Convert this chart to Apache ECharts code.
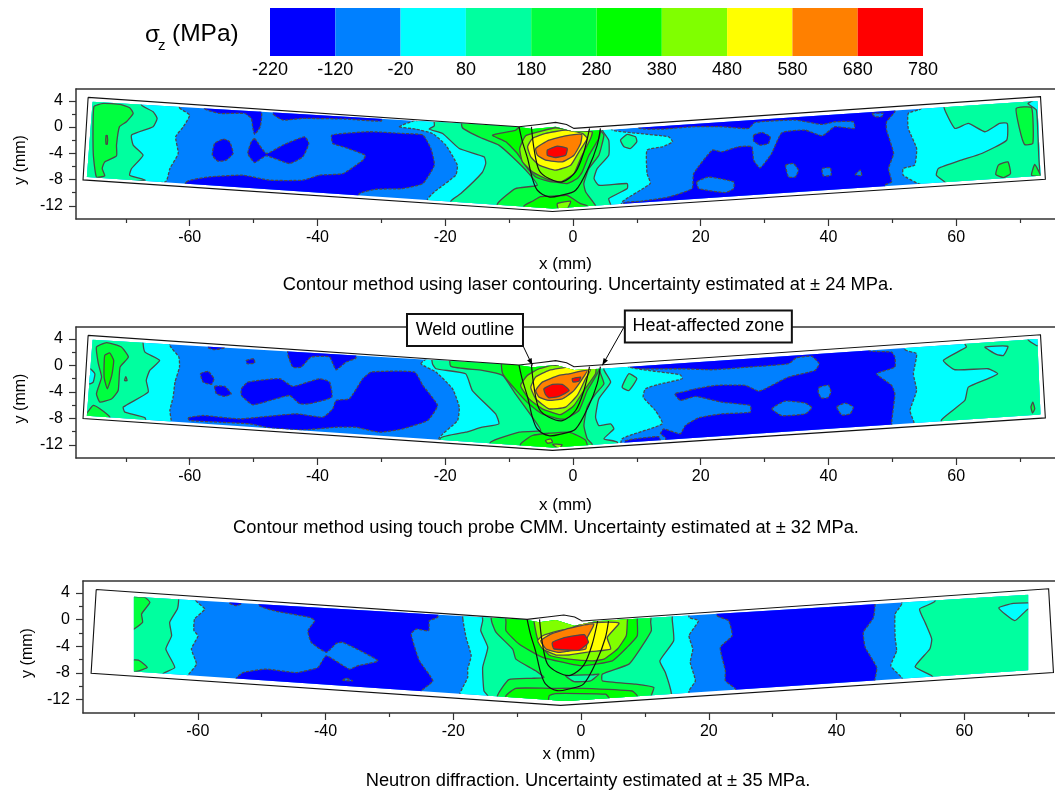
<!DOCTYPE html>
<html><head><meta charset="utf-8">
<style>html,body{margin:0;padding:0;background:#fff}#c{width:1055px;height:791px}</style>
<script src="https://cdn.jsdelivr.net/npm/echarts@6/dist/echarts.min.js"></script>
</head><body><div id="c"></div>
<script>
// stress levels and colours
const colorbarLevels = ['-220','-120','-20','80','180','280','380','480','580','680','780'];
const bandColors = ['#0000ff','#0080ff','#00ffff','#00ff9f','#00ff40','#00ff00','#80ff00','#ffff00','#ff8000','#ff0000'];
const xMajor = [-60,-40,-20,0,20,40,60];
const xMinor = [-70,-50,-30,-10,10,30,50,70];
const yMajor = [-12,-8,-4,0,4];
const yMinor = [-10,-6,-2,2];
const captions = ['Contour method using laser contouring. Uncertainty estimated at ± 24 MPa.',
 'Contour method using touch probe CMM. Uncertainty estimated at ± 32 MPa.',
 'Neutron diffraction. Uncertainty estimated at ± 35 MPa.'];

// specimen geometry (mm)
const specimenOutline = [[-75.9,4.53],[-8.44,.05],[-5.3,.4],[-2.7,.71],[-1,.4],[.16,-.2],[73.2,4.63],[73.96,-7.94],[-3.2,-12.85],[-76.7,-8.04],[-75.9,4.53]];
const hazOutline = [[-8.44,.05],[-7.9,-2.24],[-7.1,-4.78],[-6.35,-7.84],[-5.57,-9.62],[-3.75,-10.64],[-1.92,-10.4],[.42,-9.62],[2.5,-6.06],[3.8,-2.75],[4.3,-.2]];
const weldOutline = [[-6.5,.05],[-6.1,-3.26],[-5.3,-6.57],[-3.75,-7.84],[-1.66,-8.35],[.42,-6.82],[1.72,-3.77],[2.6,-.2]];
const domainContour = [[-75.2,3.87],[-8.44,0],[-6.3,-.3],[-2.7,.05],[.16,-.7],[4.3,-.5],[72.7,3.97],[73.2,-7.43],[-3.2,-12.4],[-76.1,-7.6]];
const domainNeutron = [[-70,3.45],[-8.4,-.05],[-6.55,-.4],[-3.95,-.05],[-1.08,-.9],[2.3,-.25],[70,3.75],[70,-7.57],[-2.4,-12.2],[-70,-7.77]];

// contour regions: [band index, points in mm, optional solid flag]
const laserBands = [
 [0,[[-57.66,2.75],[-55.3,2.08],[-51.4,2.08],[-50.36,1.32],[-50.1,-.21],[-49.84,-1.12],[-48.96,.05],[-48.8,2.34],[-52.7,3.36],[-57.66,3.36]]],
 [0,[[-46.9,1.93],[-45.4,1.07],[-42.3,1.32],[-35.5,1.22],[-30,.91],[-30,1.83],[-46.9,2.85]]],
 [0,[[-54.7,-1.83],[-53.75,-2.24],[-53.2,-4.02],[-54.3,-5.04],[-55.6,-5.19],[-56.46,-4.28],[-56.1,-2.5]]],
 [0,[[-49.84,-1.73],[-48,-4.02],[-45.4,-2.75],[-42,-1.48],[-41.35,-2.5],[-42.3,-4.53],[-44.4,-5.55],[-48,-4.38],[-49.84,-5.4],[-50.9,-4.02],[-50.36,-2.24]]],
 [0,[[-60.5,-8.35],[-56.9,-7.59],[-51.7,-7.33],[-47.5,-8.09],[-42.3,-8.09],[-39.7,-7.33],[-36,-7.08],[-32.9,-5.04],[-32.5,-4.28],[-36,-3],[-37.6,-2.5],[-37.76,-1.22],[-31.9,-.71],[-26.7,-.97],[-23.5,-1.22],[-22.24,-3.26],[-21.7,-5.8],[-23.5,-8.6],[-26.7,-9.37],[-30.8,-9.47],[-33.4,-10.13],[-35,-13],[-62,-13]]],
 [0,[[10.3,-.1],[14,-.31],[18.65,.05],[23.3,.05],[27.5,-.21],[28.5,.71],[34.8,1.07],[39,.4],[41,.81],[43.9,.81],[44.1,-.21],[41,.05],[39,-1.33],[36.35,-.46],[32.7,-.87],[31.1,-4.02],[29.3,-6.21],[28.3,-5.04],[28,-3],[25.9,-3],[23.3,-3.77],[21.8,-3.51],[18.9,-7.08],[18.65,-9.37],[15,-10.64],[10.57,-11.3],[8,-11.5],[8,-12.4],[48.85,-12.4],[48.85,-8.86],[49.9,-8.35],[49.4,-6.31],[50.2,-4.02],[49.1,-.46],[49.1,.81],[50.4,2.34],[50.4,3.87],[10.3,3.87]]],
 [0,[[28.3,-1.22],[29.6,-.82],[30.9,-1.48],[30.6,-2.5],[29.3,-2.75],[28.3,-2.14]]],
 [1,[[33.3,-5.8],[34.5,-5.55],[35.3,-6.57],[34.8,-7.6],[33.75,-7.6]]],
 [1,[[39,-6.31],[40.3,-6.21],[40.4,-7.33],[39.2,-7.43]]],
 [1,[[44.2,-7.23],[45,-6.57],[45.2,-7.43]]],
 [1,[[19.4,-8.35],[21.25,-7.6],[25.16,-8.35],[25.16,-9.37],[23.85,-9.98],[19.7,-9.37]]],
 [1,[[46.8,2.08],[48.6,2.08],[48.3,1.58],[47.3,1.58]]],
 [2,[[-61.6,2.95],[-60,1.83],[-61,.05],[-62.2,-1.48],[-61.8,-4.02],[-63.1,-6.31],[-63.8,-8.35],[-80,-9],[-80,6],[-61.6,6]]],
 [2,[[-27.2,.05],[-24.6,1],[6,1],[6.15,-.46],[10.3,-.97],[15,-1.48],[15.6,-2.24],[14,-3],[11.6,-3.51],[11.6,-7.08],[12.1,-8.6],[7.7,-11.4],[7,-14],[-22.76,-14],[-22.76,-11],[-21.7,-9.88],[-18.35,-7.33],[-18.1,-5.8],[-19.9,-2.75],[-22,-.97],[-24.6,-.31]]],
 [2,[[54.6,2.85],[52.5,2.08],[52.5,-.21],[53.8,-3.26],[53.5,-5.8],[51.7,-6.31],[51.7,-7.33],[54.06,-8.6],[60,-10],[80,-10],[80,7],[54.6,7]]],
 [3,[[-67.55,3.36],[-65.73,2.34],[-65.1,1.32],[-65.73,.05],[-69.1,-1.22],[-68.85,-2.75],[-67.3,-4.28],[-69.1,-6.31],[-69.4,-7.33],[-67,-8.09],[-80,-9],[-80,6],[-67.55,6]]],
 [3,[[-21.7,.2],[-22.5,-.31],[-20.4,-.97],[-17.8,-3.26],[-13.9,-4.53],[-13.65,-5.55],[-14.2,-6.92],[-17.55,-10.13],[-19.1,-11.25],[-19.5,-14],[6,-14],[5.9,-11.8],[5.6,-10.9],[8.5,-9.37],[8.5,-8.6],[4.06,-8.86],[3.3,-7.84],[3.8,-6.31],[5.6,-4.28],[5.6,-2],[4.6,-.46],[4.6,2],[-21.7,2]]],
 [3,[[8.5,-1.12],[9.8,-1.48],[10,-2.24],[9,-3.26],[8,-3],[7.45,-2]]],
 [3,[[58.1,2.95],[59.8,-.21],[61.9,.56],[64.5,-.71],[66.8,.56],[68,.56],[67.9,-2],[64,-4.02],[60.8,-5.04],[57.2,-6.31],[56.9,-7.33],[58.2,-8.35],[60,-10],[80,-10],[80,7],[58.1,7]]],
 [2,[[71.25,3.6],[72.55,2.6],[72.8,-1.2],[73.2,-7.2],[75,-7],[75,5]],1],
 [4,[[-75,3.1],[-73.5,3.61],[-70.9,3.46],[-69.4,2.95],[-68.85,2.08],[-69.9,.81],[-71,.05],[-71.46,-2.75],[-71.46,-4.38],[-73.3,-5.3],[-73.7,-6.31],[-73.3,-7.43],[-74.6,-7.6],[-75.1,-4]]],
 [5,[[-73.1,-1.3],[-72.9,-1.3],[-72.9,-2.6],[-73.1,-2.6]]],
 [4,[[-17.3,-.1],[-14.2,-1.73],[-11.6,-2.75],[-9.5,-4.53],[-6.9,-7.08],[-5.6,-8.86],[-9,-9.37],[-11.8,-11.66],[-12,-14],[4,-14],[3.5,-11.9],[2,-9.88],[1.7,-8.6],[2.5,-6.31],[4.06,-4.28],[4.85,-1.22],[4.3,-.46],[4.3,2],[-17.3,2]]],
 [4,[[69.4,2.85],[71.8,2.95],[72,-2.5],[70.7,-2.65],[69.9,-.21]]],
 [4,[[66.6,-5.8],[68.1,-5.3],[68.5,-7.08],[67.4,-7.7],[66.2,-7.23]]],
 [4,[[71.8,-7.33],[72.3,-5.7],[73.2,-7.43]]],
 [5,[[-7.65,-12],[-6.35,-11.3],[-5.05,-10.6],[-2.7,-10.5],[-.9,-10.4],[1.2,-11.66],[2.24,-12],[2.5,-15],[-8,-15]]],
 [6,[[-2.45,-11.66],[-.36,-11.3],[-.88,-12.4],[-2.3,-12.4]]],
 [5,[[-12.6,-1.22],[-9,-.5],[-8,.3],[4.3,.3],[4.3,-.7],[4.06,-1.73],[2.5,-4.3],[1.46,-6.82],[.68,-7.84],[-.9,-8.6],[-2.2,-8.45],[-3.75,-8.25],[-5.8,-7.6],[-7.1,-6.31],[-8.7,-4.02],[-10.5,-2.24]]],
 [6,[[-8.33,-3.26],[-7.4,-1.33],[-5.3,-.71],[-2.7,-.1],[.2,-.6],[3.02,-.71],[2.76,-1.73],[1.2,-4.78],[.16,-7.08],[-1.92,-8.35],[-4.27,-7.84],[-6.35,-6.82],[-7.9,-5.3]]],
 [7,[[-7.1,-3],[-6.35,-1.73],[-4.27,-.97],[-1.15,-.46],[1.46,-.97],[2.24,-1.73],[.94,-3.77],[-.36,-5.8],[-2.7,-6.57],[-5.3,-5.8],[-6.6,-4.53]]],
 [8,[[-5.83,-3.26],[-3.75,-1.99],[-1.15,-1.33],[1.36,-1.12],[1.2,-2.5],[.16,-4.28],[-1.66,-5.3],[-4.27,-5.04],[-5.57,-4.28]]],
 [9,[[-4,-3.5],[-2.45,-2.9],[-.9,-3.26],[-1.15,-4.28],[-2.7,-4.63],[-4,-4.28]]]
];
const probeBands = [
 [0,[[-57.1,2.67],[-56.1,2.37],[-54.5,2.67],[-54.5,3.5],[-57.1,3.5]]],
 [0,[[-51.15,.75],[-49.95,1],[-49.84,.35],[-51,.25]]],
 [0,[[-44.6,1.51],[-43.85,-.26],[-42.55,-.26],[-41,1.26],[-38.1,1.26],[-37.1,-.66],[-35.5,.5],[-34,1.1],[-34,3],[-44.6,3.5]]],
 [0,[[-58.3,-1.27],[-57.1,-.91],[-56.2,-2.02],[-56.6,-2.88],[-57.9,-2.53]]],
 [0,[[-56.1,-3.18],[-54.5,-3.18],[-53.5,-4.3],[-54.5,-4.7],[-55.8,-4.3]]],
 [0,[[-51.9,-3.54],[-50.9,-2.53],[-45.9,-2.02],[-43.85,-3.18],[-39.7,-2.02],[-38.1,-2.53],[-37.76,-4.8],[-41.25,-5.8],[-42.8,-5.8],[-44.4,-4.55],[-50.1,-5.96],[-51.9,-4.55]]],
 [0,[[-60.26,-7.93],[-57.9,-7.58],[-52.2,-8.08],[-43.3,-7.33],[-39.15,-7.83],[-37.6,-6.57],[-37.1,-5.3],[-35,-5.05],[-32.9,-2.02],[-31.6,-1.01],[-24.8,-1.01],[-23.5,-3.03],[-21.2,-6.06],[-22.76,-8.34],[-26.7,-9.6],[-30.3,-10.1],[-34,-9.35],[-37.1,-9.35],[-42.3,-9.75],[-47.5,-9.45],[-50.6,-8.84],[-55.3,-8.59],[-60,-8.34]]],
 [0,[[8.75,-.26],[9.8,-.51],[17.1,-.51],[21.77,-.66],[27.5,-.26],[33.75,.25],[35,1.16],[37.4,1.36],[38.55,.25],[37.9,-.76],[33.75,-1.77],[30.1,-3.54],[29.06,-3.9],[27,-3.03],[22.3,-3.03],[19.2,-3.54],[17.1,-4.04],[15.94,-4.3],[16.8,-5.3],[19.2,-4.7],[23.3,-5.56],[27.76,-6.06],[27.76,-7.07],[23.3,-7.33],[19.7,-7.93],[17.6,-9.1],[16.8,-10.35],[14.2,-9.6],[13.7,-10.35],[14.5,-10.96],[14.5,-13],[49.9,-13],[49.9,-8.6],[50.4,-4.3],[49.9,-3.03],[47.55,-1.27],[50.4,-.26],[50.4,1.26],[49.9,2],[46.25,2.27],[46.25,5],[8.75,3]]],
 [0,[[8.2,-11.4],[13.4,-10.76],[13.7,-11.4],[13.7,-13],[8.2,-13]]],
 [1,[[38.55,-3.3],[40,-3],[40.4,-4.04],[39.9,-4.9],[38.85,-4.9],[38.4,-4.04]]],
 [1,[[41.3,-6.3],[42.6,-5.7],[43.9,-6.3],[43.4,-7.33],[42.1,-7.5]]],
 [1,[[31.15,-6.57],[33.2,-5.4],[36.35,-5.7],[37.4,-6.4],[36.35,-7.33],[32.7,-7.6]]],
 [2,[[-63.1,3],[-61.7,1.26],[-61.6,-.26],[-62.3,-2.53],[-62.6,-4.8],[-63.1,-6.82],[-62.9,-8.34],[-63,-10],[-80,-10],[-80,6],[-63.1,6]]],
 [2,[[-23.8,.25],[-22,1.5],[8,1.5],[8.75,-.26],[16.8,-1.42],[17.1,-2.02],[13.4,-2.88],[11.35,-3.54],[11,-4.8],[12.9,-6.82],[14,-8.84],[7.7,-11.1],[7,-14],[-21,-14],[-20.94,-10.96],[-18.07,-8.34],[-17.8,-6.3],[-18.85,-3.54],[-21.45,-1]]],
 [2,[[52,2.37],[53.8,1.76],[53.3,-1.27],[53.8,-3.8],[52.76,-6.82],[53.3,-8.34],[54,-10],[80,-10],[80,7],[52,7]]],
 [3,[[-67.3,3.38],[-67,2],[-64.7,.75],[-66.25,-.76],[-66.8,-2.27],[-66.5,-4.04],[-70.4,-6.3],[-70.15,-7.07],[-67,-7.93],[-67,-10],[-80,-10],[-80,6],[-67.3,6]]],
 [2,[[-75.6,-.51],[-74.85,-1.27],[-75.1,-2.53],[-75.6,-2.78],[-78,-2.78],[-78,-.51]],1],
 [3,[[-22,.25],[-21.45,-.51],[-16.8,-1.27],[-15.75,-3.8],[-12.1,-7.33],[-11.6,-8.84],[-14.2,-9.35],[-16.8,-10.1],[-20.7,-10.96],[-21,-14],[7,-14],[6.93,-11.6],[4.85,-11.1],[6.4,-9.6],[5.9,-8.84],[4.06,-9.1],[3.54,-7.83],[4.06,-5.05],[5.9,-2.53],[4.85,-.66],[4.85,2],[-22,2]]],
 [3,[[8.75,-1.27],[10,-2],[8.75,-3.8],[7.7,-3.3]]],
 [3,[[61.35,3.28],[61.6,2.77],[58,.75],[59.8,-.66],[65,-.51],[66.5,-1.27],[65,-2],[61.9,-3.29],[61.35,-5.3],[57.7,-8.23],[58,-10],[80,-10],[80,7],[61.35,7]]],
 [2,[[64.5,2.77],[68.1,2.88],[67.4,1.51],[66.3,1.66]],1],
 [2,[[71.25,3.9],[72.55,3],[72.8,3],[75,4.5],[71.25,5]],1],
 [4,[[-74.6,2.77],[-73,3.43],[-70.7,2.77],[-69.6,1.26],[-70.9,-.26],[-71.2,-3.8],[-72.2,-5.05],[-74.06,-5.56],[-74.6,-4.3],[-73.8,-1.77],[-74.3,.25]]],
 [5,[[-73.3,1.51],[-72.5,1.87],[-71.9,.75],[-72.2,-1.52],[-72.9,-3.54],[-73.4,-1.77]]],
 [4,[[-76.15,-7.33],[-75.1,-6.06],[-74.06,-6.57],[-72.5,-7.83],[-72.5,-9],[-76.15,-9]]],
 [4,[[-70,-1.7],[-69.8,-2.3],[-70.2,-2.3]]],
 [4,[[72,-5.56],[72.3,-6.57],[71.95,-7.2],[71.7,-6.3]]],
 [4,[[-19.1,-.15],[-14.2,-.76],[-11,-1.52],[-9,-4.3],[-6.36,-7.83],[-5.05,-9.85],[-8.4,-10.1],[-12.9,-11.6],[-13,-14],[3,-14],[3,-11.9],[2.24,-11.1],[1.72,-9.1],[2.24,-6.3],[3.54,-4.3],[4.85,-2.78],[4.06,-.5],[4.06,2],[-19.1,2]]],
 [5,[[-8.2,-11.9],[-6.36,-10.6],[-3.75,-10.26],[-.6,-10.1],[2,-11.35],[2.5,-15],[-8.2,-15]]],
 [6,[[-4.3,-11.37],[-3.5,-11.1],[-3.2,-11.6],[-4,-11.77]]],
 [6,[[-3.2,-11.9],[-1.7,-12],[-2.2,-12.6]]],
 [5,[[-11,-1.27],[-8.4,-4.3],[-6.9,-5.8],[-4.8,-7.33],[-2.2,-8.08],[-1.15,-8.08],[.94,-6.82],[2.24,-3.8],[4.06,-.76],[4.06,2],[-11,2]]],
 [6,[[-8.2,-3.03],[-7.14,-1.52],[-5.3,-.51],[-3.2,0],[3.54,-.3],[3.54,-1.27],[1.72,-3.8],[.16,-6.06],[-1.67,-7.33],[-2.2,-7.43],[-4.8,-6.57],[-6.9,-5.05]]],
 [7,[[-6.6,-3.3],[-5.83,-1.77],[-3.75,-.76],[-.6,-.26],[2.76,-.6],[1.98,-2],[.68,-4.55],[-1.15,-6.3],[-3.75,-6.57],[-5.83,-5.05]]],
 [8,[[-5.83,-3.8],[-4.8,-2.53],[-2.2,-1.52],[-.6,-1.27],[2.24,-.76],[.94,-2.78],[-.1,-4.04],[-1.67,-5.05],[-3.75,-5.3],[-5.3,-4.8]]],
 [9,[[-4.55,-3.54],[-3.2,-2.88],[-1.67,-2.88],[-.6,-3.8],[-2.2,-4.7],[-3.75,-4.9],[-4.3,-4.4]]],
 [9,[[-.1,-2],[1.2,-1.77],[.94,-2.4],[0,-2.5]]]
];
const neutronBands = [
 [0,[[-55,2.45],[-54,2.1],[-53.2,2.35],[-53.2,3.35],[-55,3.35]]],
 [0,[[-50.4,2.1],[-47.7,1.25],[-42.5,.35],[-41.7,-.15],[-42.76,-1.66],[-42.25,-3.4],[-39.9,-4.9],[-38.3,-3.56],[-37.3,-3.4],[-31.8,-6.17],[-35,-6.92],[-36.25,-7.42],[-39.9,-5.42],[-41.2,-7.17],[-44.6,-7.93],[-49.3,-7.42],[-52.9,-7.93],[-54,-8.83],[-54,-11],[-25,-12.5],[-25,-10.68],[-23.2,-9.18],[-25.3,-6.17],[-26.6,-2.16],[-25.8,-1.41],[-23.85,-1.66],[-23.75,-.15],[-22.45,.35],[-22.45,3],[-50.4,4]]],
 [1,[[-37.3,-9.08],[-36.75,-8.78],[-35.8,-9.18]]],
 [0,[[21.3,.6],[23.1,-.15],[23.65,-2.41],[21.8,-4.16],[22.6,-7.67],[22.6,-9.18],[24.2,-10.43],[24.2,-13],[46,-13],[46,-9.08],[46.3,-7.17],[44.5,-4.16],[44.2,-1.91],[45.8,.35],[45.8,4],[21.3,4]]],
 [2,[[-60.3,2.85],[-58.9,1.6],[-60.5,.1],[-60.6,-1.66],[-59.95,-2.41],[-61,-4.4],[-60.2,-6.67],[-61.5,-8.3],[-62,-10],[-80,-10],[-80,6],[-60.3,6]]],
 [2,[[-18.5,.1],[-18,-2.66],[-17.2,-5.42],[-17.75,-7.42],[-17.75,-8.68],[-19,-11.18],[-19,-14],[16.9,-14],[16.9,-10.68],[17.9,-9.18],[17.1,-6.42],[17.5,-4.4],[16.9,-2.41],[18.4,-.15],[16.9,.35],[16.9,3],[-18.5,3]]],
 [2,[[50.2,2.35],[49.17,.85],[49.17,-2.66],[49.4,-4.67],[48.5,-6.92],[50.2,-8.68],[51,-10],[80,-10],[80,7],[50.2,7]]],
 [3,[[-63,2.95],[-63.2,1.6],[-64.4,-.4],[-64.1,-2.41],[-65,-4.4],[-63.6,-7.17],[-65.4,-8.07],[-66,-10],[-80,-10],[-80,6],[-63,6]]],
 [3,[[-15.4,-.15],[-15.7,-1.66],[-14.6,-4.16],[-15.4,-7.17],[-15.2,-10.68],[-14.6,-11.43],[-14.6,-14],[14.17,-14],[14.17,-11.18],[13.2,-7.93],[12.34,-6.17],[14.5,-3.16],[14.27,.1],[14.27,3],[-15.4,3]]],
 [3,[[55.4,2.75],[53,1.6],[53.85,-.4],[54.9,-2.9],[54.6,-4.4],[52.3,-7.07],[54.9,-8.42],[56,-10],[80,-10],[80,7],[55.4,7]]],
 [2,[[65.4,1.75],[67.66,2.45],[72,2.45],[72,1.6],[70,1.6],[67.9,-.15]],1],
 [4,[[-71,3.35],[-68.3,3.35],[-67.5,2.6],[-68.8,.85],[-68.65,-.4],[-71,-1.9]]],
 [4,[[-71,-6.17],[-69.3,-6.07],[-67.9,-7.17],[-69.6,-7.77],[-71,-7.8]]],
 [4,[[-14,2],[-14,-.25],[-13.3,-1.91],[-10.7,-4.42],[-10.2,-5.92],[-7.1,-7.67],[-5.8,-8.68],[-7.8,-8.8],[-11.3,-9],[-13.1,-11.43],[-13,-14],[11.4,-14],[11,-11.43],[11.4,-10.18],[8.54,-9.68],[3.33,-9.18],[3.33,-8.17],[7.5,-6.67],[9.06,-4.67],[11,-1.66],[10.9,-.4],[10.9,2]]],
 [3,[[-2.4,-8.4],[1.77,-8.27],[2.8,-8.17],[1.5,-9.18],[-1.1,-9.28]],1],
 [5,[[-11.75,-.4],[-11.75,-1.66],[-9.7,-3.66],[-6,-5.67],[-1.9,-6.6],[.2,-6.92],[4.9,-6.17],[7.2,-4.16],[8.8,-2.41],[8.8,-.15],[8.8,2],[-11.75,2]]],
 [6,[[-7.35,-.3],[-6.8,-2.9],[-5,-5.3],[-1.9,-5.92],[1.77,-6.17],[3.6,-5.92],[5.7,-4.4],[7.08,-2.4],[7.24,-.4],[7.24,2],[-7.35,2]]],
 [7,[[-6.8,-3.16],[-6,-2.41],[-3.4,-1.66],[-1.9,-1.4],[.5,-.5],[5.94,-.5],[4.1,-2.66],[4.64,-4.4],[1.77,-4.77],[-1.9,-5.3],[-4,-5.27],[-6,-4.4]]],
 [8,[[-6.3,-3.16],[-4.74,-2.16],[-1.9,-1.3],[2,-.66],[1,-2.66],[.73,-4.4],[-1.9,-4.7],[-3.4,-4.92],[-5.5,-4.4]]],
 [9,[[-4.47,-3.4],[-3.7,-3.05],[-2.4,-2.65],[.48,-2.25],[1.16,-3.4],[-.3,-4.56],[-4.2,-4.4],[-4.47,-3.9]]],
 [5,[[-11.76,-11.43],[-10.2,-10.3],[-5,-10.3],[.2,-10.3],[8,-10.7],[8.8,-11.43],[9,-14],[-12,-14]]],
 [4,[[-5,-11.43],[-4,-11.08],[3.85,-11.18],[4.4,-11.8],[4.4,-14],[-5,-14]]]
];

// callouts in the touch-probe panel
const calloutLabels = ['Weld outline','Heat-affected zone'];
const calloutCentres = [[-16.9,5.34],[21.2,5.88]];
const calloutFrom = [[-8,3.33],[8,5.8]];
const calloutTips = [[-6.35,0],[4.6,0]];

const FONT = '"Liberation Sans", Arial, sans-serif';
const panels = [
 {bands:laserBands, domain:domainContour, top:89, height:130, left:76, width:981, xMin:-77.8, xMax:75.47, xGap:37},
 {bands:probeBands, domain:domainContour, top:327, height:131, left:76, width:981, xMin:-77.8, xMax:75.47, xGap:39},
 {bands:neutronBands, domain:domainNeutron, top:581, height:132, left:83, width:974, xMin:-77.97, xMax:74.2, xGap:33}
];
const grid=[], xAxis=[], yAxis=[], series=[];
panels.forEach((p,i)=>{
  grid.push({left:p.left,top:p.top,height:p.height,width:p.width,show:false});
  const axisLine={show:true,onZero:false,lineStyle:{color:'#333',width:1.5}};
  xAxis.push({gridIndex:i,type:'value',min:p.xMin,max:p.xMax,position:'bottom',axisLine,splitLine:{show:false},
    axisTick:{show:true,length:7,customValues:xMajor,lineStyle:{color:'#333',width:1.2}},
    axisLabel:{show:true,customValues:xMajor,color:'#000',fontFamily:FONT,fontSize:16,margin:11,formatter:v=>String(v)},
    name:'x (mm)',nameLocation:'middle',nameGap:p.xGap,nameTextStyle:{color:'#000',fontFamily:FONT,fontSize:17}});
  xAxis.push({gridIndex:i,type:'value',min:p.xMin,max:p.xMax,position:'top',axisLine:{show:true,onZero:false,lineStyle:{color:'#333',width:1.5}},splitLine:{show:false},
    axisTick:{show:false},axisLabel:{show:false}});
  xAxis.push({gridIndex:i,type:'value',min:p.xMin,max:p.xMax,position:'bottom',axisLine:{show:false,onZero:false},splitLine:{show:false},
    axisTick:{show:true,length:4,customValues:xMinor,lineStyle:{color:'#333',width:1.2}},axisLabel:{show:false}});
  yAxis.push({gridIndex:i,type:'value',min:-14,max:5.8,position:'left',axisLine,splitLine:{show:false},
    axisTick:{show:true,length:7,customValues:yMajor,lineStyle:{color:'#333',width:1.2}},
    axisLabel:{show:true,customValues:yMajor,color:'#000',fontFamily:FONT,fontSize:16,margin:13,formatter:v=>String(v)},
    name:'y (mm)',nameLocation:'middle',nameRotate:90,nameGap:47,nameTextStyle:{color:'#000',fontFamily:FONT,fontSize:16,padding:[0,12,0,0]}});
  yAxis.push({gridIndex:i,type:'value',min:-14,max:5.8,position:'left',axisLine:{show:false,onZero:false},splitLine:{show:false},
    axisTick:{show:true,length:4,customValues:yMinor,lineStyle:{color:'#333',width:1.2}},axisLabel:{show:false}});
  const xi=i*3, yi=i*2;
  // base band plus contour regions, clipped to the specimen section
  const items=[[1,p.domain,null,true]].concat(p.bands);
  series.push({type:'custom',name:'sigma-'+i,xAxisIndex:xi,yAxisIndex:yi,z:2,silent:true,
    data:items.map((b,k)=>[k,b[0]]),
    renderItem:(params,api)=>{
      const b=items[params.dataIndex];
      const solid=b[2]===1, base=b[3]===true, dashed=!base&&!solid&&b[0]<=2;
      return {type:'polygon',shape:{points:b[1].map(c=>api.coord(c)),smooth:0.15},
        clipPath:{type:'polygon',shape:{points:p.domain.map(c=>api.coord(c))}},
        style:{fill:bandColors[b[0]],stroke:base?null:'#4a4a4a',lineWidth:base?0:1.3,lineDash:dashed?[3,1.5]:null}};
    }});
  // specimen outline, weld and heat-affected-zone lines
  const lines=[{pts:specimenOutline,w:1.1,smooth:0},{pts:hazOutline,w:1.2,smooth:0.3},{pts:weldOutline,w:1.2,smooth:0.3}];
  series.push({type:'custom',name:'outline-'+i,xAxisIndex:xi,yAxisIndex:yi,z:3,silent:true,
    data:lines.map((l,k)=>[k,0]),
    renderItem:(params,api)=>{
      const l=lines[params.dataIndex];
      return {type:'polyline',shape:{points:l.pts.map(c=>api.coord(c)),smooth:l.smooth},style:{fill:null,stroke:'#111',lineWidth:l.w}};
    }});
});
// callouts
series.push({type:'custom',xAxisIndex:3,yAxisIndex:2,z:8,silent:true,clip:false,
  data:calloutLabels.map((l,k)=>[k,0]),
  renderItem:(params,api)=>{
    const k=params.dataIndex, c=api.coord(calloutCentres[k]), a=api.coord(calloutFrom[k]), t=api.coord(calloutTips[k]);
    const w=k?167:116, h=32;
    const ang=Math.atan2(t[1]-a[1],t[0]-a[0]), L=7, W=2.5;
    const head=[t,[t[0]-L*Math.cos(ang)+W*Math.sin(ang),t[1]-L*Math.sin(ang)-W*Math.cos(ang)],[t[0]-L*Math.cos(ang)-W*Math.sin(ang),t[1]-L*Math.sin(ang)+W*Math.cos(ang)]];
    return {type:'group',children:[
      {type:'line',shape:{x1:a[0],y1:a[1],x2:t[0],y2:t[1]},style:{stroke:'#000',lineWidth:1}},
      {type:'polygon',shape:{points:head},style:{fill:'#000'}},
      {type:'rect',shape:{x:c[0]-w/2,y:c[1]-h/2,width:w,height:h},style:{fill:'#fff',stroke:'#111',lineWidth:2}},
      {type:'text',x:c[0],y:c[1],style:{text:calloutLabels[k],fill:'#000',font:'18px '+FONT,align:'center',verticalAlign:'middle'}}
    ]};
  }});
// colour bar
grid.push({left:270,top:8,width:653,height:48});
xAxis.push({gridIndex:3,type:'category',data:colorbarLevels,boundaryGap:false,axisLine:{show:false},axisTick:{show:false},splitLine:{show:false},
  axisLabel:{show:true,interval:0,color:'#000',fontFamily:FONT,fontSize:18,margin:5}});
yAxis.push({gridIndex:3,type:'value',min:0,max:1,show:false});
series.push({type:'custom',xAxisIndex:9,yAxisIndex:6,z:2,silent:true,
  data:bandColors.map((c,k)=>[k,0]),
  renderItem:(params,api)=>{
    const k=params.dataIndex, a=api.coord([k,1]), b=api.coord([k+1,0]);
    return {type:'rect',shape:{x:a[0],y:a[1],width:b[0]-a[0],height:b[1]-a[1]},style:{fill:bandColors[k]}};
  }});
const cap=(text,left,top)=>({text,left,top,textAlign:'center',textStyle:{color:'#000',fontFamily:FONT,fontSize:18.3,fontWeight:'normal'},padding:0});
const txt=(text,left,top,size)=>({text,left,top,textStyle:{color:'#000',fontFamily:FONT,fontSize:size,fontWeight:'normal'},padding:0});
const chart=echarts.init(document.getElementById('c'),null,{renderer:'canvas'});
chart.setOption({animation:false,backgroundColor:'#fff',
  title:[txt('σ',145,23,24),txt('z',158,38,15),txt('(MPa)',172,22,24.5),
    cap(captions[0],588,276),cap(captions[1],546,519),cap(captions[2],588,772)],
  grid,xAxis,yAxis,series});
</script></body></html>
